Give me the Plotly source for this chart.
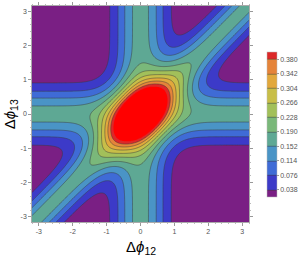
import numpy as np
import plotly.graph_objects as go

# ---- data / model parameters ----
phi_grid = np.linspace(-3.2, 3.2, 257)          # Δφ12 and Δφ13 sample points
band_peak = 0.168                               # value along a single ridge
band_sigma2 = 0.36                              # ridge width parameter
ridge_exponent = 1.3                            # combination exponent
levels = [0.038, 0.076, 0.114, 0.152, 0.190, 0.228, 0.266, 0.304, 0.342, 0.380]
level_labels = ["0.038", "0.076", "0.114", "0.152", "0.190", "0.228",
                "0.266", "0.304", "0.342", "0.380"]
clip_level = 0.418
band_colors = ["#7a1f84", "#3c3ac8", "#3f6bd6", "#4a94c6", "#5ea894", "#7ab87a",
               "#a2c05a", "#c8be48", "#e2a83c", "#e5843a", "#dc2828"]
clip_color = "#ff0000"
axis_ticks = [-3, -2, -1, 0, 1, 2, 3]
axis_tick_labels = ["-3", "-2", "-1", "0", "1", "2", "3"]
x_title = "Δ<i>ϕ</i><sub>12</sub>"
y_title = "Δ<i>ϕ</i><sub>13</sub>"

X, Y = np.meshgrid(phi_grid, phi_grid)
ridge = lambda d: np.exp(-d ** 2 / (2 * band_sigma2))
Z = band_peak * (ridge(X) + ridge(Y) + ridge(X - Y)) ** ridge_exponent

n = len(band_colors)
cscale = [[i / (n - 1), c] for i, c in enumerate(band_colors)]
step = levels[1] - levels[0]

fig = go.Figure()
fig.add_trace(go.Contour(
    x=phi_grid, y=phi_grid, z=Z,
    contours=dict(start=levels[0], end=levels[-1], size=step, coloring="fill"),
    colorscale=cscale,
    line=dict(color="#3a3a3a", width=0.5),
    colorbar=dict(
        x=1.083, xanchor="left", xpad=0, y=0.451, yanchor="middle", ypad=0,
        len=145, lenmode="pixels", thickness=10,
        outlinewidth=0.5, outlinecolor="#bbbbbb",
        tickvals=levels, ticktext=level_labels,
        ticks="outside", ticklen=2, tickcolor="#999999",
        tickfont=dict(family="Liberation Sans", size=7, color="#555555"),
    ),
))
fig.add_trace(go.Contour(
    x=phi_grid, y=phi_grid, z=Z,
    contours=dict(start=clip_level, end=clip_level, size=step, coloring="fill"),
    colorscale=[[0, "rgba(0,0,0,0)"], [1, clip_color]],
    line=dict(width=0), showscale=False, hoverinfo="skip",
))

axis_common = dict(
    tickvals=axis_ticks, ticktext=axis_tick_labels,
    ticks="outside", ticklen=3, tickcolor="#999999", tickwidth=0.7,
    minor=dict(dtick=0.2, ticks="outside", ticklen=1.5, tickcolor="#bbbbbb", tickwidth=0.6),
    showline=True, linecolor="#aaaaaa", linewidth=0.6, mirror="ticks",
    showgrid=False, zeroline=False, automargin=False,
    tickfont=dict(family="Liberation Sans", size=7, color="#555555"),
)
fig.update_xaxes(range=[-3.2, 3.2], **axis_common)
fig.update_yaxes(range=[-3.15, 3.15], **axis_common)
title_font = dict(family="Liberation Sans", size=15, color="black")
fig.add_annotation(text=x_title, xref="paper", yref="paper", x=0.5, y=-0.118,
                   xanchor="center", yanchor="middle", showarrow=False, font=title_font)
fig.add_annotation(text=y_title, xref="paper", yref="paper", x=-0.10, y=0.5,
                   xanchor="center", yanchor="middle", textangle=-90,
                   showarrow=False, font=title_font)
fig.update_layout(
    width=299, height=257,
    margin=dict(l=32, r=50, t=6, b=35, autoexpand=False),
    paper_bgcolor="white", plot_bgcolor="white",
    showlegend=False,
)
fig.write_html("out.html", config={"displayModeBar": False},
               post_script="document.body.style.margin='0';document.body.style.overflow='hidden';")
